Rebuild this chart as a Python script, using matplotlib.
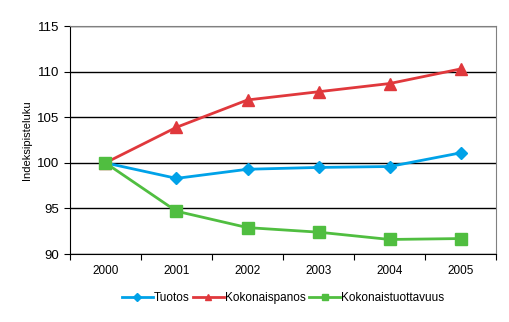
import matplotlib
matplotlib.use('Agg')
import matplotlib.pyplot as plt
import numpy as np

plt.rcParams['font.family'] = ['Liberation Sans', 'DejaVu Sans']

years = ['2000', '2001', '2002', '2003', '2004', '2005']
tuotos = [100.0, 98.3, 99.3, 99.5, 99.6, 101.1]
kokonaispanos = [100.0, 103.9, 106.9, 107.8, 108.7, 110.3]
tuottavuus = [100.0, 94.7, 92.9, 92.4, 91.6, 91.7]

fig = plt.figure(figsize=(5.1, 3.22), dpi=100)
ax = fig.add_axes([0.137, 0.211, 0.836, 0.708])

x = np.arange(len(years))
ax.plot(x, tuotos, color='#00A2E8', lw=2, marker='D', ms=6.5, label='Tuotos', zorder=3)
ax.plot(x, kokonaispanos, color='#E0383C', lw=2, marker='^', ms=8, label='Kokonaispanos', zorder=3)
ax.plot(x, tuottavuus, color='#50BE40', lw=2, marker='s', ms=8, label='Kokonaistuottavuus', zorder=3)

ax.set_xlim(-0.5, len(years) - 0.5)
ax.set_ylim(90, 115)
ax.set_yticks(range(90, 116, 5))
ax.yaxis.grid(True, color='black', lw=1)
ax.set_axisbelow(True)
ax.set_xticks(np.arange(-0.5, len(years), 1))
ax.set_xticklabels([])
ax.set_xticks(x, minor=True)
ax.set_xticklabels(years, minor=True)
ax.tick_params(axis='x', which='minor', length=0, pad=8, labelsize=8.5)
ax.tick_params(axis='x', which='major', length=4, direction='out')
ax.tick_params(axis='y', length=4, direction='out', labelsize=9.5)
ax.set_ylabel('Indeksipisteluku', fontsize=8)

for s in ['top', 'right']:
    ax.spines[s].set_color('#808080')
    ax.spines[s].set_zorder(2.5)
for s in ['left', 'bottom']:
    ax.spines[s].set_color('black')

fig.legend(loc='center', bbox_to_anchor=(0.555, 0.075), ncol=3, frameon=False,
           fontsize=8.5, handlelength=2.6, handletextpad=0.1, columnspacing=0.3,
           markerscale=0.6)

fig.savefig('out.png', dpi=100)
